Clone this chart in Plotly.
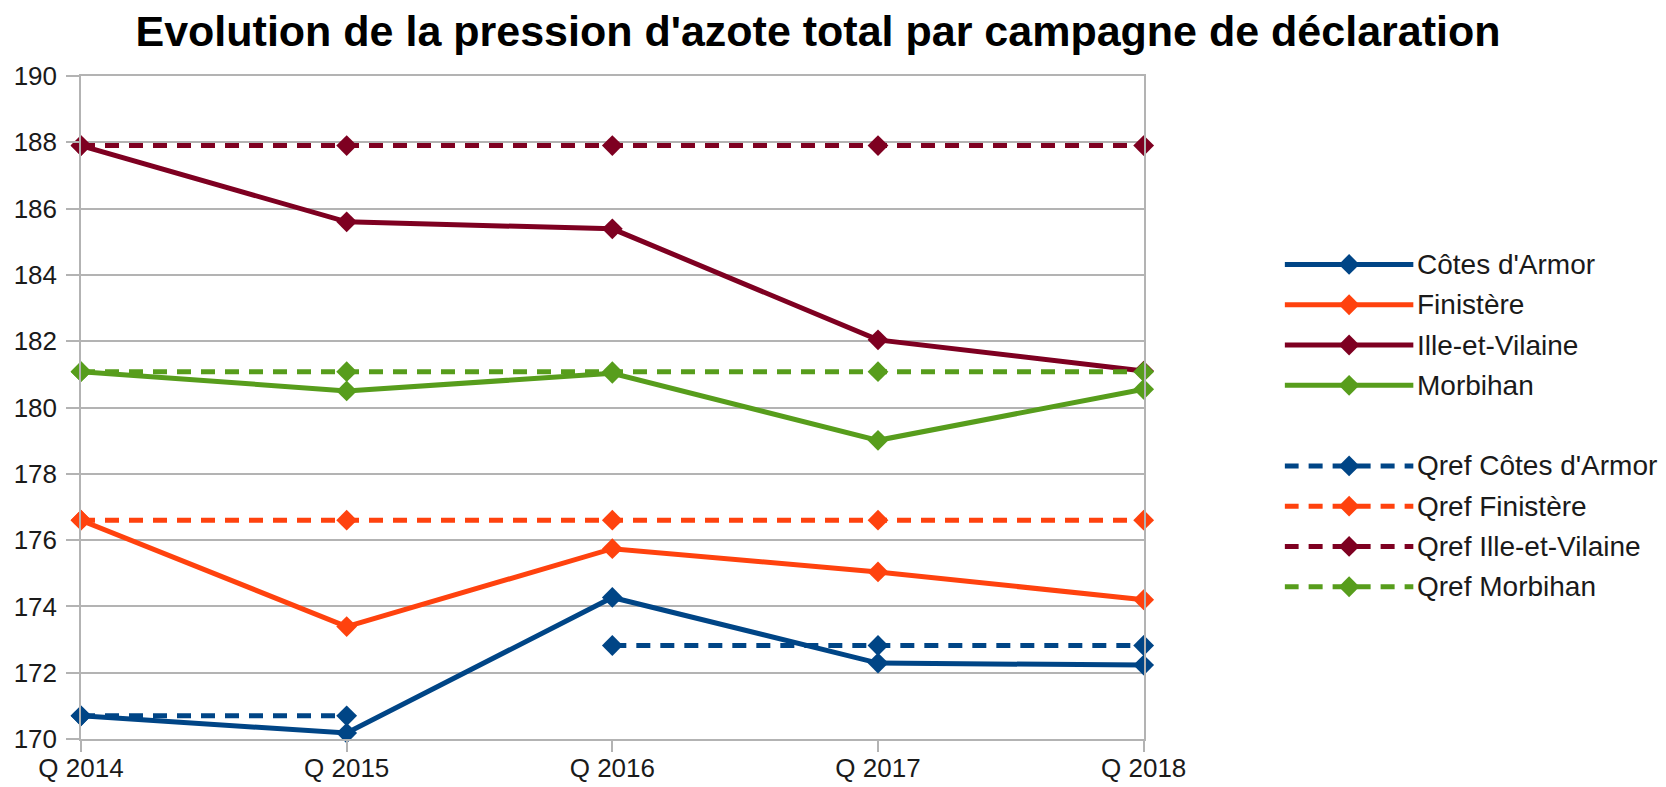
import plotly.graph_objects as go

categories = ["Q 2014", "Q 2015", "Q 2016", "Q 2017", "Q 2018"]

cotes_armor = [170.7, 170.18, 174.27, 172.29, 172.23]
finistere = [176.6, 173.39, 175.74, 175.04, 174.2]
ille_et_vilaine = [187.9, 185.6, 185.39, 182.04, 181.1]
morbihan = [181.08, 180.5, 181.03, 179.01, 180.55]

qref_cotes_armor_a = [170.7, 170.7, None, None, None]
qref_cotes_armor_b = [None, None, 172.82, 172.82, 172.82]
qref_finistere = [176.6, 176.6, 176.6, 176.6, 176.6]
qref_ille_et_vilaine = [187.9, 187.9, 187.9, 187.9, 187.9]
qref_morbihan = [181.08, 181.08, 181.08, 181.08, 181.08]

series_names = ["Côtes d'Armor", "Finistère", "Ille-et-Vilaine", "Morbihan"]
qref_names = ["Qref Côtes d'Armor", "Qref Finistère", "Qref Ille-et-Vilaine", "Qref Morbihan"]
colors = ["#004586", "#ff420e", "#7e0021", "#579d1c"]

y_ticks = [170, 172, 174, 176, 178, 180, 182, 184, 186, 188, 190]

W, H = 1666, 787
L, T, R = 72.5, 67.5, 10
plot_bottom_px = 730.7
B = H - plot_bottom_px
plot_w = W - L - R
plot_right_px = 1135.5
x_dom_end = (plot_right_px - L) / plot_w

LW = 5
MS = 16
DASH = "14px,10px"
FONT = "Liberation Sans, Arial, sans-serif"

fig = go.Figure()

for name, vals, col in zip(series_names, [cotes_armor, finistere, ille_et_vilaine, morbihan], colors):
    fig.add_trace(go.Scatter(
        x=categories, y=vals, mode="lines+markers", name=name,
        line=dict(color=col, width=LW),
        marker=dict(symbol="diamond", size=MS, color=col),
        cliponaxis=False, showlegend=False,
    ))

qref_sets = [
    (qref_names[0], qref_cotes_armor_a, colors[0]),
    (qref_names[0], qref_cotes_armor_b, colors[0]),
    (qref_names[1], qref_finistere, colors[1]),
    (qref_names[2], qref_ille_et_vilaine, colors[2]),
    (qref_names[3], qref_morbihan, colors[3]),
]
for name, vals, col in qref_sets:
    fig.add_trace(go.Scatter(
        x=categories, y=vals, mode="lines+markers", name=name,
        line=dict(color=col, width=LW, dash=DASH),
        marker=dict(symbol="diamond", size=MS, color=col),
        cliponaxis=False, showlegend=False, connectgaps=False,
    ))

# Custom legend drawn on a secondary axis pair (y in pixel units)
legend_rows_px = [256.0, 296.3, 336.6, 376.9, 457.5, 497.8, 538.1, 578.4]
leg_x0, leg_x1, leg_text_x = 1276.5, 1405.5, 1407
entries = [(n, c, "solid") for n, c in zip(series_names, colors)] + \
          [(n, c, DASH) for n, c in zip(qref_names, colors)]
for (name, col, dash), ypx in zip(entries, legend_rows_px):
    fig.add_trace(go.Scatter(
        x=[0, 2], y=[ypx, ypx], xaxis="x2", yaxis="y2",
        mode="lines", line=dict(color=col, width=LW, dash=dash),
        showlegend=False, hoverinfo="skip", cliponaxis=False,
    ))
    fig.add_trace(go.Scatter(
        x=[1], y=[ypx], xaxis="x2", yaxis="y2",
        mode="markers",
        marker=dict(symbol="diamond", size=MS, color=col, opacity=1, line=dict(width=0)),
        showlegend=False, hoverinfo="skip", cliponaxis=False,
    ))
    fig.add_annotation(
        x=(leg_text_x - L) / plot_w, xref="paper", y=ypx, yref="y2",
        text=name, showarrow=False, xanchor="left", yanchor="middle",
        font=dict(family=FONT, size=28, color="#1a1a1a"),
    )

fig.update_layout(
    width=W, height=H,
    margin=dict(l=L, r=R, t=T, b=B, pad=0),
    paper_bgcolor="white", plot_bgcolor="white",
    title=dict(
        text="<b>Evolution de la pression d'azote total par campagne de déclaration</b>",
        x=810 / W, xanchor="center",
        y=1 - 22.5 / H, yanchor="middle",
        font=dict(family=FONT, size=43, color="black"),
    ),
    xaxis=dict(
        domain=[0, x_dom_end], type="category", range=[0, 4],
        showgrid=False, showline=True, linecolor="#b3b3b3", linewidth=1.5, mirror=True,
        ticks="outside", ticklen=11, tickcolor="#b3b3b3", tickwidth=1.5,
        ticklabelstandoff=-6,
        tickfont=dict(family=FONT, size=26, color="#1a1a1a"),
        zeroline=False, automargin=False,
    ),
    yaxis=dict(
        range=[170, 190], tickvals=y_ticks,
        showgrid=True, gridcolor="#b3b3b3", gridwidth=1.5,
        showline=True, linecolor="#b3b3b3", linewidth=1.5, mirror=True,
        ticks="outside", ticklen=13, tickcolor="#b3b3b3", tickwidth=1.5,
        ticklabelstandoff=4,
        tickfont=dict(family=FONT, size=26, color="#1a1a1a"),
        zeroline=False, automargin=False,
    ),
    xaxis2=dict(
        domain=[(leg_x0 - L) / plot_w, (leg_x1 - L) / plot_w], range=[0, 2],
        visible=False, anchor="y2", automargin=False,
    ),
    yaxis2=dict(
        domain=[0, 1], range=[H - B, T], visible=False, anchor="x2", automargin=False,
    ),
    showlegend=False,
)

fig.write_html("out.html")
